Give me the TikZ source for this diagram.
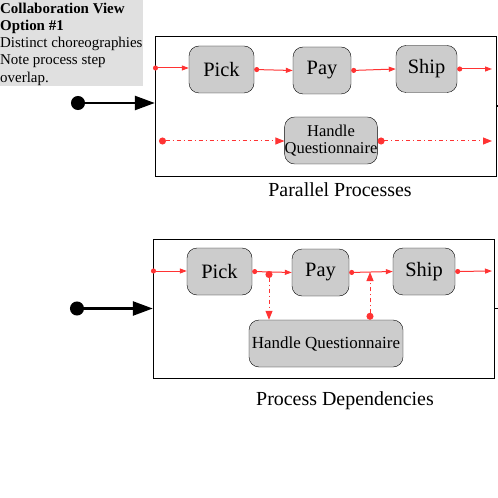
\documentclass[tikz,border=0pt]{standalone}
\usepackage{fontspec}
\setmainfont{Liberation Serif}
\usetikzlibrary{arrows.meta}
\definecolor{flowred}{HTML}{ff3333}
\definecolor{boxgray}{HTML}{cccccc}
\definecolor{notegray}{HTML}{e0e0e0}

\begin{document}
\begin{tikzpicture}[x=1bp,y=-1bp,
  stepbox/.style={draw, fill=boxgray, rounded corners=10bp, inner sep=0pt, minimum height=47bp, font=\fontsize{20.5}{21}\selectfont},
  pframe/.style={draw, inner sep=0pt},
  flow/.style={flowred, line width=1bp, {Circle[length=5bp]}-{Triangle[length=7bp,width=5bp]}},
  msg/.style={flowred, line width=1bp, dash pattern=on 4bp off 3bp on 1bp off 3bp, {Circle[length=7bp]}-{Triangle[length=9bp,width=7bp]}},
  kickoff/.style={line width=2.5bp, {Circle[length=14bp]}-{Triangle[length=20bp,width=14bp]}}]

\useasboundingbox (0,0) rectangle (498,498);

\fill[notegray] (0,0) rectangle (143,86);
\node[anchor=north west, inner sep=0pt, align=left, font=\fontsize{15}{17.2}\selectfont] (note) at (0,3)
  {\textbf{Collaboration View}\\\textbf{Option \#1}\\Distinct choreographies\\Note process step\\overlap.};

%parallel processes
\node[pframe, minimum width=341bp, minimum height=140bp] (par) at (325.5,106) {};
\node[stepbox, minimum width=65bp] (pick1) at (221.5,69.5) {Pick};
\node[stepbox, minimum width=58bp] (pay1) at (322,70.5) {Pay};
\node[stepbox, minimum width=61bp] (ship1) at (426.5,69) {Ship};
\node[stepbox, minimum width=92bp, align=center, font=\fontsize{16.6}{17}\selectfont] (hq1) at (331,140.5) {Handle\\Questionnaire};

\coordinate (in1) at (153,68);
\coordinate (out1) at (492,69);
\draw[flow] (in1) -- (in1 -| pick1.west);
\draw[flow] (pick1.east) -- (pay1.west);
\draw[flow] (pay1.east) -- (ship1.west);
\draw[flow] (ship1.east) -- (out1);

\coordinate (m1) at (159,141);
\coordinate (mo1) at (492,141);
\draw[msg] (m1) -- (m1 -| hq1.west);
\draw[msg] (hq1.east |- mo1) -- (mo1);

\coordinate (s1) at (71,103);
\draw[kickoff] (s1) -- (s1 -| par.west);
\draw[line width=1.5bp] (par.east) -- ++(3,0);

\node[anchor=base, font=\fontsize{20}{22}\selectfont] (cap1) at (340,197) {Parallel Processes};

%process dependencies
\node[pframe, minimum width=341bp, minimum height=139bp] (dep) at (323.5,308.5) {};
\node[stepbox, minimum width=65bp] (pick2) at (219.5,271.5) {Pick};
\node[stepbox, minimum width=57bp] (pay2) at (320.5,272.5) {Pay};
\node[stepbox, minimum width=62bp] (ship2) at (424,271.5) {Ship};
\node[stepbox, minimum width=154bp, font=\fontsize{17}{17}\selectfont] (hq2) at (326,343.5) {Handle Questionnaire};

\coordinate (in2) at (151,271);
\coordinate (out2) at (492,271);
\draw[flow] (in2) -- (in2 -| pick2.west);
\draw[flow] (pick2.east) -- (pay2.west);
\draw[flow] (pay2.east) -- (ship2.west);
\draw[flow] (ship2.east) -- (out2);

\coordinate (q1) at (269,271);
\coordinate (q2) at (370,272);
\draw[msg] (q1) -- (q1 |- hq2.north);
\draw[msg] (q2 |- hq2.north) -- (q2);

\coordinate (s2) at (70,308.5);
\draw[kickoff] (s2) -- (dep.west);
\draw[line width=1.5bp] (dep.east) -- ++(4,0);

\node[anchor=base, font=\fontsize{20}{22}\selectfont] (cap2) at (345,405.5) {Process Dependencies};

\end{tikzpicture}
\end{document}
